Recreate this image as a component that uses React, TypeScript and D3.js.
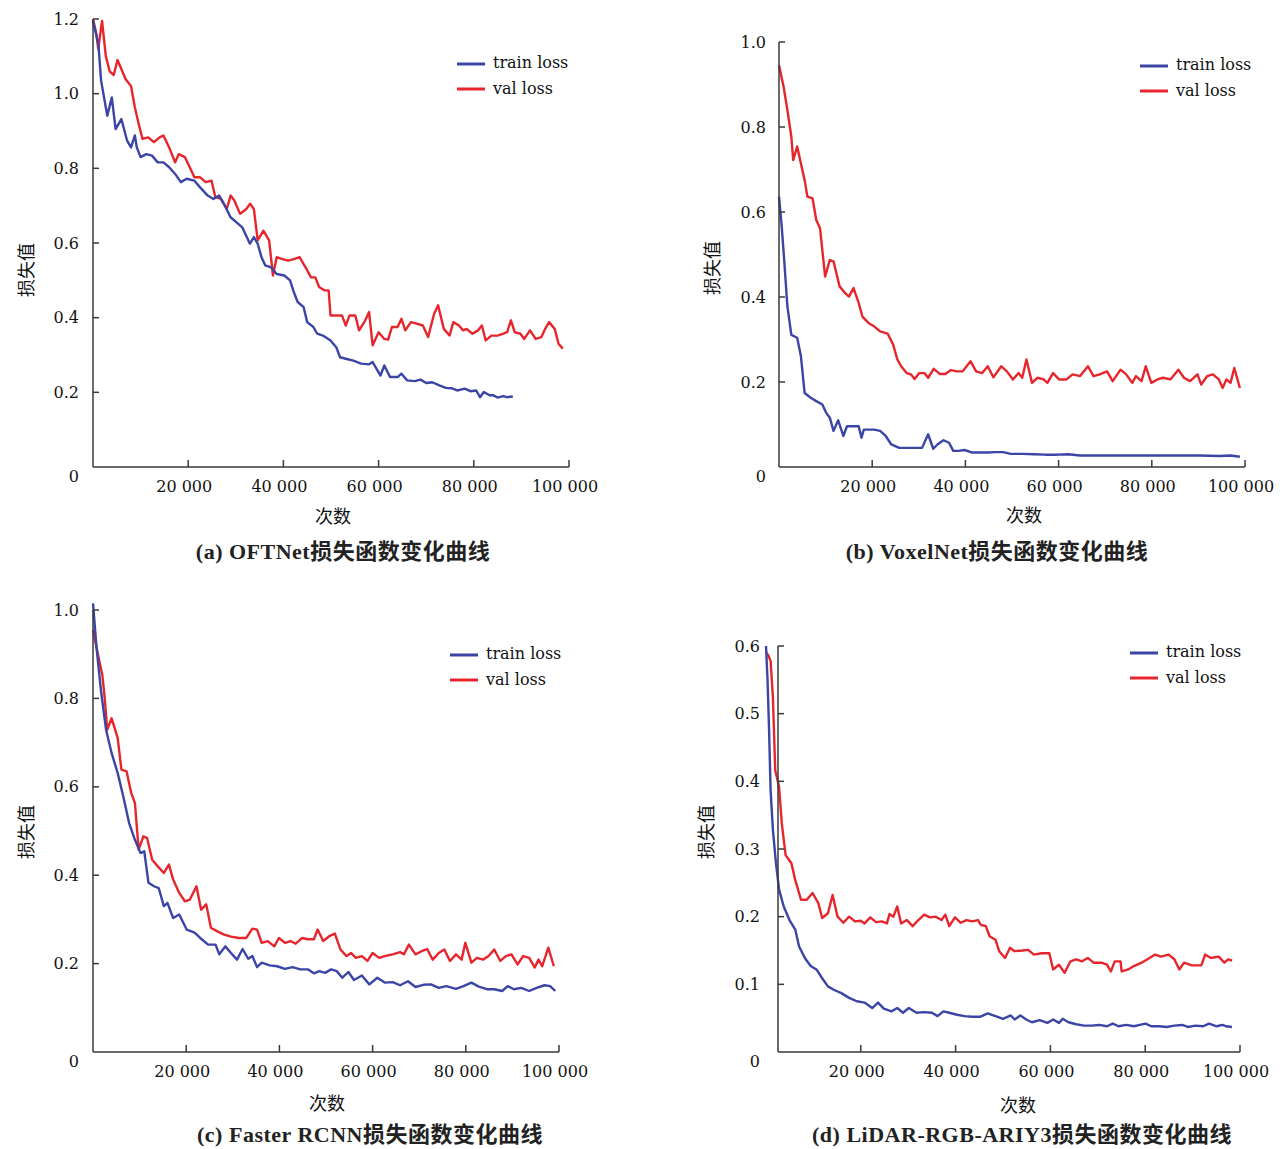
import React from "react";
import * as d3 from "d3";

// iteration ticks shared by all four panels
const iterTicks = [20000, 40000, 60000, 80000, 100000];
const aYTicks = [0, 0.2, 0.4, 0.6, 0.8, 1.0, 1.2];
const bYTicks = [0, 0.2, 0.4, 0.6, 0.8, 1.0];
const cYTicks = [0, 0.2, 0.4, 0.6, 0.8, 1.0];
const dYTicks = [0, 0.1, 0.2, 0.3, 0.4, 0.5, 0.6];

// (a) OFTNet
const aTrain: [number, number][] = [
  [0, 1.195], [1130, 1.133], [1700, 1.035], [3000, 0.941], [3950, 0.99], [4750, 0.905], [5960, 0.932],
  [7170, 0.874], [7980, 0.856], [8800, 0.888], [9200, 0.856], [10000, 0.83], [11200, 0.838], [12400, 0.834],
  [13600, 0.816], [14800, 0.816], [16000, 0.803], [17250, 0.785], [18460, 0.763], [19670, 0.772],
  [21300, 0.767], [22500, 0.749], [24100, 0.727], [25300, 0.718], [26500, 0.727], [27700, 0.7],
  [28900, 0.669], [30100, 0.656], [31350, 0.642], [32970, 0.598], [33800, 0.616], [34600, 0.598],
  [35400, 0.562], [36200, 0.54], [37400, 0.535], [38600, 0.517], [40200, 0.513], [41400, 0.5],
  [42200, 0.468], [43000, 0.442], [44250, 0.428], [45000, 0.388], [46300, 0.375], [47100, 0.357],
  [48300, 0.352], [49900, 0.339], [51100, 0.321], [51900, 0.294], [53100, 0.29], [54700, 0.285],
  [56300, 0.277], [58000, 0.275], [58750, 0.281], [60400, 0.245], [61200, 0.272], [62400, 0.241],
  [64000, 0.241], [64800, 0.25], [66000, 0.232], [67600, 0.23], [68800, 0.234], [70000, 0.225],
  [71250, 0.227], [72900, 0.218], [74100, 0.212], [75300, 0.211], [76500, 0.205], [78100, 0.21],
  [79300, 0.203], [80500, 0.205], [81300, 0.187], [82100, 0.201], [83300, 0.192], [84100, 0.192],
  [85000, 0.186], [86200, 0.19], [87000, 0.187], [88200, 0.189],
];
const aVal: [number, number][] = [
  [0, 1.2], [700, 1.16], [1100, 1.12], [1900, 1.195], [2700, 1.1], [3500, 1.06], [4350, 1.05], [5150, 1.09],
  [6000, 1.065], [6800, 1.04], [8000, 1.02], [8800, 0.963], [9600, 0.919], [10400, 0.879], [11600, 0.883],
  [12800, 0.87], [14000, 0.883], [14800, 0.888], [16000, 0.856], [17250, 0.816], [18000, 0.838],
  [19300, 0.83], [20500, 0.798], [21300, 0.776], [22500, 0.776], [23700, 0.763], [24900, 0.767],
  [25700, 0.723], [26900, 0.718], [28100, 0.691], [28900, 0.727], [29700, 0.714], [30900, 0.678],
  [32200, 0.691], [33000, 0.705], [33800, 0.691], [34600, 0.607], [35800, 0.633], [37000, 0.607],
  [37800, 0.513], [38600, 0.562], [39800, 0.557], [41000, 0.553], [42200, 0.557], [43400, 0.562],
  [44650, 0.535], [45800, 0.508], [46700, 0.508], [47500, 0.482], [48700, 0.473], [49500, 0.473],
  [49900, 0.406], [51100, 0.406], [52300, 0.406], [53100, 0.379], [53900, 0.406], [55100, 0.406],
  [55900, 0.366], [57200, 0.393], [58000, 0.415], [58750, 0.326], [60000, 0.361], [61200, 0.343],
  [62000, 0.341], [62800, 0.375], [64000, 0.375], [64800, 0.397], [65600, 0.366], [66800, 0.388],
  [68000, 0.384], [69300, 0.379], [70400, 0.348], [71650, 0.41], [72500, 0.433], [73700, 0.37],
  [74900, 0.352], [75700, 0.388], [76900, 0.379], [77700, 0.366], [78500, 0.37], [79700, 0.357],
  [80900, 0.366], [81700, 0.379], [82500, 0.339], [83700, 0.352], [85000, 0.352], [86200, 0.357],
  [87000, 0.361], [87800, 0.393], [88600, 0.361], [89800, 0.357], [90600, 0.343], [91800, 0.366],
  [93000, 0.343], [94200, 0.348], [95000, 0.37], [95800, 0.388], [97000, 0.37], [97800, 0.33], [98700, 0.317],
];

// (b) VoxelNet
const bTrain: [number, number][] = [
  [0, 0.636], [580, 0.566], [1160, 0.48], [1800, 0.378], [2650, 0.311], [3900, 0.304], [4700, 0.261],
  [5500, 0.174], [6800, 0.163], [8000, 0.155], [9300, 0.147], [10100, 0.128], [10900, 0.116], [11700, 0.085],
  [12700, 0.11], [13800, 0.073], [14600, 0.096], [15900, 0.096], [17100, 0.096], [17700, 0.069],
  [18200, 0.088], [19200, 0.088], [20400, 0.088], [21700, 0.085], [22900, 0.073], [24100, 0.053],
  [25800, 0.045], [27400, 0.045], [29100, 0.045], [30700, 0.045], [32000, 0.077], [33100, 0.043],
  [34000, 0.053], [35300, 0.063], [36500, 0.057], [37400, 0.038], [38600, 0.038], [39800, 0.04],
  [41500, 0.034], [43100, 0.034], [44800, 0.034], [46400, 0.035], [48100, 0.035], [49700, 0.031],
  [52200, 0.031], [54700, 0.03], [57200, 0.029], [59700, 0.029], [62100, 0.03], [64600, 0.027],
  [67900, 0.027], [71200, 0.027], [74500, 0.027], [77800, 0.027], [82000, 0.027], [86100, 0.027],
  [90200, 0.027], [94400, 0.026], [96900, 0.027], [98900, 0.024],
];
const bVal: [number, number][] = [
  [0, 0.945], [1000, 0.894], [1800, 0.84], [2650, 0.777], [3050, 0.722], [3900, 0.754], [4700, 0.714],
  [5500, 0.675], [6100, 0.636], [7200, 0.632], [8000, 0.581], [8800, 0.562], [9900, 0.448], [10900, 0.487],
  [11700, 0.484], [13000, 0.425], [14200, 0.409], [15000, 0.401], [16000, 0.421], [17100, 0.386],
  [17900, 0.354], [19200, 0.339], [20400, 0.331], [21700, 0.319], [23300, 0.314], [24500, 0.288],
  [25400, 0.253], [26200, 0.237], [27400, 0.221], [28300, 0.218], [29100, 0.207], [30100, 0.221],
  [31200, 0.221], [32000, 0.21], [33200, 0.231], [34500, 0.219], [35700, 0.219], [36900, 0.228],
  [38200, 0.225], [39400, 0.225], [41100, 0.249], [42300, 0.225], [43600, 0.221], [44800, 0.237],
  [46000, 0.211], [47700, 0.237], [48900, 0.225], [50200, 0.206], [51400, 0.221], [52200, 0.21],
  [53100, 0.253], [54300, 0.198], [55500, 0.21], [56800, 0.206], [57600, 0.198], [58800, 0.221],
  [60100, 0.206], [61700, 0.206], [63000, 0.218], [64600, 0.214], [66300, 0.237], [67500, 0.214],
  [68800, 0.218], [70400, 0.225], [71600, 0.202], [73300, 0.229], [74500, 0.218], [75800, 0.198],
  [76600, 0.214], [77800, 0.202], [78700, 0.237], [79900, 0.198], [81200, 0.206], [82400, 0.21],
  [84000, 0.206], [85700, 0.229], [86900, 0.21], [88200, 0.202], [89800, 0.218], [90600, 0.194],
  [91900, 0.214], [93100, 0.218], [94400, 0.206], [95200, 0.186], [96000, 0.206], [96900, 0.198],
  [97700, 0.233], [98900, 0.186],
];

// (c) Faster RCNN
const cTrain: [number, number][] = [
  [0, 1.015], [740, 0.917], [1700, 0.819], [2800, 0.729], [4000, 0.676], [5300, 0.631], [6500, 0.578],
  [7750, 0.518], [9000, 0.48], [10200, 0.45], [11000, 0.454], [11900, 0.383], [13100, 0.375], [14100, 0.371],
  [15200, 0.33], [16000, 0.337], [17200, 0.303], [18500, 0.311], [20100, 0.277], [21800, 0.27],
  [23000, 0.258], [24700, 0.243], [26300, 0.243], [27100, 0.221], [28400, 0.239], [29600, 0.224],
  [30900, 0.209], [32100, 0.233], [33300, 0.211], [34200, 0.217], [35200, 0.192], [36200, 0.202],
  [37900, 0.196], [39500, 0.194], [41200, 0.188], [42800, 0.192], [44500, 0.187], [46100, 0.187],
  [47400, 0.178], [48600, 0.183], [49800, 0.179], [51100, 0.187], [52300, 0.183], [53500, 0.168],
  [54800, 0.181], [56000, 0.163], [57700, 0.173], [59300, 0.153], [61000, 0.168], [62600, 0.157],
  [64300, 0.158], [65900, 0.151], [67600, 0.16], [69200, 0.147], [70900, 0.152], [72500, 0.153],
  [74200, 0.145], [75800, 0.149], [77900, 0.143], [79500, 0.149], [81200, 0.157], [82800, 0.148],
  [84500, 0.142], [86100, 0.142], [87800, 0.138], [89000, 0.149], [90300, 0.142], [91900, 0.145],
  [93600, 0.138], [95200, 0.145], [96900, 0.151], [98100, 0.149], [99200, 0.138],
];
const cVal: [number, number][] = [
  [0, 0.955], [1150, 0.895], [2000, 0.853], [2550, 0.797], [3050, 0.729], [4000, 0.755], [5300, 0.71],
  [6100, 0.639], [7200, 0.635], [8200, 0.586], [9000, 0.563], [9800, 0.458], [10800, 0.488], [11600, 0.484],
  [12700, 0.435], [13900, 0.42], [15200, 0.405], [16300, 0.424], [17200, 0.39], [18500, 0.36],
  [19700, 0.341], [20800, 0.345], [22200, 0.375], [23200, 0.322], [24300, 0.334], [25300, 0.281],
  [26700, 0.273], [28000, 0.266], [29600, 0.261], [31300, 0.258], [32900, 0.258], [34200, 0.279],
  [35200, 0.277], [36200, 0.247], [37500, 0.251], [38900, 0.239], [39900, 0.258], [41200, 0.247],
  [42400, 0.251], [43500, 0.245], [44900, 0.258], [46100, 0.255], [47400, 0.255], [48200, 0.277],
  [49400, 0.251], [50700, 0.262], [51900, 0.268], [53100, 0.232], [54400, 0.217], [55400, 0.224],
  [56400, 0.213], [57700, 0.217], [58900, 0.206], [60000, 0.224], [61400, 0.213], [62600, 0.217],
  [64300, 0.221], [65900, 0.226], [66700, 0.221], [67800, 0.243], [69200, 0.221], [70500, 0.228],
  [71700, 0.233], [72900, 0.209], [74200, 0.224], [75400, 0.232], [76600, 0.206], [77900, 0.221],
  [79100, 0.209], [79900, 0.247], [81200, 0.202], [82400, 0.213], [83700, 0.209], [84900, 0.217],
  [86100, 0.232], [87400, 0.206], [88600, 0.217], [89800, 0.221], [91100, 0.198], [92300, 0.217],
  [93600, 0.213], [94800, 0.191], [95600, 0.209], [96400, 0.194], [97700, 0.236], [98900, 0.194],
];

// (d) LiDAR-RGB-ARIY3
const dTrain: [number, number][] = [
  [0, 0.6], [330, 0.549], [650, 0.475], [970, 0.387], [1460, 0.328], [2100, 0.279], [2760, 0.24],
  [3740, 0.215], [4950, 0.195], [6170, 0.181], [6980, 0.156], [8200, 0.139], [9420, 0.127], [10640, 0.122],
  [11850, 0.109], [13070, 0.097], [14290, 0.092], [15900, 0.087], [17540, 0.08], [19160, 0.075],
  [20790, 0.073], [22400, 0.065], [23630, 0.073], [24850, 0.064], [26470, 0.06], [27690, 0.065],
  [28900, 0.058], [30130, 0.065], [31750, 0.058], [33370, 0.059], [35000, 0.058], [36200, 0.053],
  [37430, 0.06], [38650, 0.058], [40280, 0.055], [41900, 0.053], [43520, 0.052], [45150, 0.052],
  [46770, 0.057], [48400, 0.053], [50000, 0.049], [51640, 0.054], [52450, 0.048], [53670, 0.054],
  [54900, 0.048], [56100, 0.044], [57730, 0.047], [59360, 0.043], [60580, 0.048], [61800, 0.043],
  [62600, 0.049], [63800, 0.044], [65450, 0.041], [67070, 0.039], [68700, 0.039], [70300, 0.04],
  [71940, 0.038], [73160, 0.042], [74380, 0.038], [76000, 0.04], [77630, 0.038], [78850, 0.04],
  [80060, 0.042], [81280, 0.038], [82900, 0.038], [84530, 0.037], [86150, 0.039], [87780, 0.04],
  [89000, 0.037], [90600, 0.039], [92240, 0.038], [93460, 0.042], [95090, 0.038], [96300, 0.04],
  [97100, 0.038], [98300, 0.037],
];
const dVal: [number, number][] = [
  [0, 0.591], [490, 0.586], [970, 0.578], [1460, 0.524], [1950, 0.416], [2760, 0.392], [3330, 0.338],
  [4140, 0.291], [5360, 0.279], [6170, 0.254], [7390, 0.225], [8600, 0.225], [9820, 0.235], [11040, 0.22],
  [11850, 0.198], [13070, 0.205], [14050, 0.232], [15100, 0.2], [16320, 0.191], [17540, 0.2],
  [18760, 0.193], [19970, 0.194], [20790, 0.19], [22000, 0.199], [23220, 0.192], [24440, 0.193],
  [25500, 0.19], [26060, 0.204], [26880, 0.2], [27690, 0.215], [28500, 0.19], [29720, 0.195],
  [30940, 0.186], [32150, 0.195], [33370, 0.203], [34590, 0.199], [35800, 0.2], [37030, 0.195],
  [37840, 0.203], [38650, 0.186], [39870, 0.199], [41090, 0.191], [42300, 0.195], [43520, 0.193],
  [44740, 0.195], [45300, 0.188], [46370, 0.186], [47180, 0.171], [48400, 0.166], [49200, 0.149],
  [50430, 0.139], [51480, 0.154], [52450, 0.149], [54080, 0.15], [55300, 0.151], [56520, 0.144],
  [58140, 0.146], [59770, 0.146], [60580, 0.122], [61800, 0.129], [63000, 0.117], [64230, 0.134],
  [65450, 0.137], [66670, 0.134], [67880, 0.139], [69100, 0.132], [70730, 0.132], [71940, 0.129],
  [72760, 0.119], [73570, 0.134], [74790, 0.134], [75030, 0.119], [76400, 0.122], [77630, 0.127],
  [79250, 0.132], [80470, 0.137], [82100, 0.144], [83310, 0.141], [84940, 0.144], [86150, 0.137],
  [87200, 0.122], [88200, 0.132], [89800, 0.128], [91840, 0.128], [92650, 0.144], [93870, 0.139],
  [95500, 0.141], [96700, 0.132], [97520, 0.137], [98340, 0.135],
];

const BLUE = "#3b45a6";
const RED = "#e6262c";
const AXIS = "#3a3a3a";
const LATIN = "'DejaVu Serif', 'Liberation Serif', serif";
const CJK = "'Noto Sans CJK SC', sans-serif";

const spaced = d3.formatLocale({ decimal: ".", thousands: " ", grouping: [3], currency: ["", ""] }).format(",");
const yFmt = (v: number) => (v === 0 ? "0" : d3.format(".1f")(v));

const panels = [
  {
    title: "(a) OFTNet损失函数变化曲线", train: aTrain, val: aVal, yMax: 1.2, yTicks: aYTicks,
    x0: 93, x1: 569, axisX: 93, yBase: 467, yTop: 19, labelGap: 14,
    yLabel: [25, 270], xLabel: [333, 515], caption: [343, 551], legend: [457, 64],
  },
  {
    title: "(b) VoxelNet损失函数变化曲线", train: bTrain, val: bVal, yMax: 1.0, yTicks: bYTicks,
    x0: 779, x1: 1245, axisX: 779, yBase: 467, yTop: 42, labelGap: 13,
    yLabel: [711, 268], xLabel: [1024, 514], caption: [997, 551], legend: [1140, 66],
  },
  {
    title: "(c) Faster RCNN损失函数变化曲线", train: cTrain, val: cVal, yMax: 1.0, yTicks: cYTicks,
    x0: 93, x1: 559, axisX: 93, yBase: 1052, yTop: 610, labelGap: 14,
    yLabel: [25, 832], xLabel: [327, 1102], caption: [370, 1134], legend: [450, 655],
  },
  {
    title: "(d) LiDAR-RGB-ARIY3损失函数变化曲线", train: dTrain, val: dVal, yMax: 0.6, yTicks: dYTicks,
    x0: 766, x1: 1240, axisX: 778, yBase: 1052, yTop: 646, labelGap: 18,
    yLabel: [705, 832], xLabel: [1018, 1104], caption: [1022, 1134], legend: [1130, 653],
  },
];

function Panel({ p }: { p: (typeof panels)[number] }) {
  const x = d3.scaleLinear().domain([0, 100000]).range([p.x0, p.x1]);
  const y = d3.scaleLinear().domain([0, p.yMax]).range([p.yBase, p.yTop]);
  const line = d3.line<[number, number]>().x((d) => x(d[0])).y((d) => y(d[1]));
  const [lx, ly] = p.legend;
  return (
    <g>
      <path d={line(p.val) || ""} fill="none" stroke={RED} strokeWidth={2.4} strokeLinejoin="round" />
      <path d={line(p.train) || ""} fill="none" stroke={BLUE} strokeWidth={2.4} strokeLinejoin="round" />

      <line x1={p.axisX} x2={p.axisX} y1={p.yBase} y2={p.yTop} stroke={AXIS} strokeWidth={1.5} />
      <line x1={p.axisX} x2={p.x1} y1={p.yBase} y2={p.yBase} stroke={AXIS} strokeWidth={1.5} />
      {p.yTicks.map((t) => (
        <g key={"y" + t}>
          {t !== 0 && <line x1={p.axisX} x2={p.axisX + 6} y1={y(t)} y2={y(t)} stroke={AXIS} strokeWidth={1.5} />}
          <text x={p.axisX - p.labelGap} y={t === 0 ? y(t) + 9 : y(t)} textAnchor="end" dominantBaseline="central"
            fontFamily={LATIN} fontSize={16} fill="#111">{yFmt(t)}</text>
        </g>
      ))}
      {iterTicks.map((t) => (
        <g key={"x" + t}>
          <line x1={x(t)} x2={x(t)} y1={p.yBase} y2={p.yBase - 7} stroke={AXIS} strokeWidth={1.5} />
          <text x={x(t) - 4} y={p.yBase + 19} textAnchor="middle" dominantBaseline="central"
            fontFamily={LATIN} fontSize={16} fill="#111">{spaced(t)}</text>
        </g>
      ))}

      <text transform={`translate(${p.yLabel[0]},${p.yLabel[1]}) rotate(-90)`} textAnchor="middle"
        dominantBaseline="central" fontFamily={CJK} fontSize={18} fill="#111">损失值</text>
      <text x={p.xLabel[0]} y={p.xLabel[1]} textAnchor="middle" dominantBaseline="central"
        fontFamily={CJK} fontSize={18} fill="#111">次数</text>
      <text x={p.caption[0]} y={p.caption[1]} textAnchor="middle" dominantBaseline="central"
        fontFamily={`'Liberation Serif', ${CJK}`} fontWeight={700} fontSize={22} letterSpacing={0.5}
        fill="#222">{p.title}</text>

      <line x1={lx} x2={lx + 28} y1={ly} y2={ly} stroke={BLUE} strokeWidth={3} />
      <text x={lx + 36} y={ly - 2} dominantBaseline="central" fontFamily={LATIN} fontSize={16} fill="#111">train loss</text>
      <line x1={lx} x2={lx + 28} y1={ly + 25} y2={ly + 25} stroke={RED} strokeWidth={3} />
      <text x={lx + 36} y={ly + 24} dominantBaseline="central" fontFamily={LATIN} fontSize={16} fill="#111">val loss</text>
    </g>
  );
}

export default function App() {
  return (
    <svg width={1280} height={1149} style={{ position: "absolute", left: 0, top: 0, background: "#fff" }}>
      <rect width={1280} height={1149} fill="#fff" />
      {panels.map((p) => (
        <Panel key={p.title} p={p} />
      ))}
    </svg>
  );
}
